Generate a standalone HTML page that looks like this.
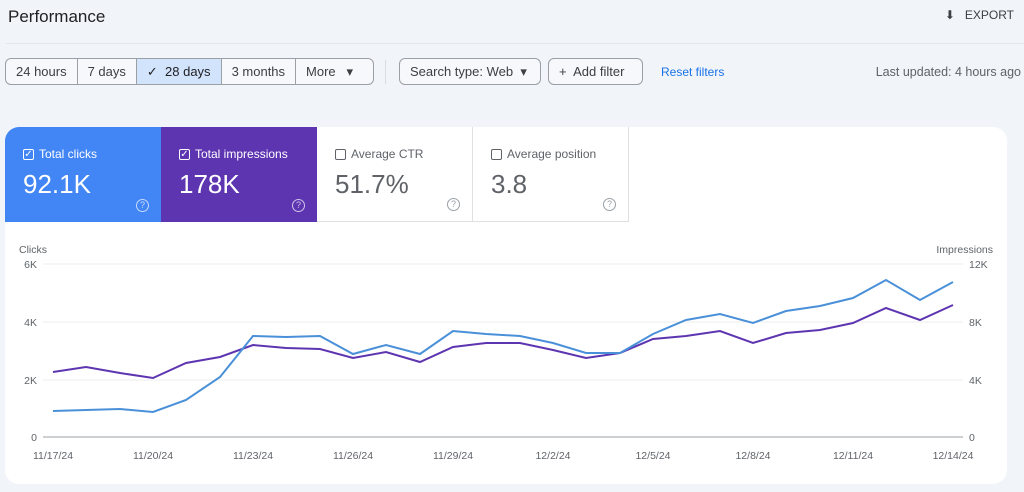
<!DOCTYPE html>
<html><head><meta charset="utf-8"><style>
*{box-sizing:border-box;margin:0;padding:0}
body{width:1024px;height:492px;background:#f1f4f9;font-family:"Liberation Sans",Arial,sans-serif;position:relative;overflow:hidden;color:#3c4043}
.abs{position:absolute;white-space:nowrap}
.title{left:8px;top:7px;font-size:17px;color:#202124}
.hr{left:6px;top:43px;width:1018px;height:1px;background:#e3e6ea}
.seg{left:5px;top:58px;height:27px;border:1px solid #9aa0a6;border-radius:6px;display:flex;overflow:hidden;background:#f6f8fb}
.seg div{font-size:13px;padding:0 10px;line-height:25px;border-right:1px solid #9aa0a6;color:#3c4043}
.seg div:last-child{border-right:none}
.btn{top:58px;height:27px;border:1px solid #9aa0a6;border-radius:6px;font-size:13px;line-height:25px;padding:0 10px;background:#f6f8fb}
.card{left:5px;top:127px;width:1002px;height:357px;background:#fff;border-radius:14px;overflow:hidden}
.m{position:absolute;top:0;width:156px;height:95px;padding:20px 0 0 18px}
.m .l{font-size:12px;display:flex;align-items:center;gap:5px}
.m .v{font-size:26px;margin-top:8px}
.cb{width:11px;height:11px;border:1px solid currentColor;border-radius:2px;font-size:10px;line-height:9px;text-align:center}
.q{position:absolute;right:12px;bottom:10px;width:13px;height:13px;border:1.3px solid currentColor;border-radius:50%;font-size:9px;line-height:11px;text-align:center}
</style></head><body>
<div class="abs title">Performance</div>
<div class="abs" style="right:10px;top:8px;font-size:12px;color:#3c4043">⬇&nbsp;&nbsp; EXPORT</div>
<div class="abs hr"></div>
<div class="abs seg"><div>24 hours</div><div>7 days</div><div style="background:#d2e3fc;color:#202124">✓&nbsp; 28 days</div><div>3 months</div><div style="width:77px">More &nbsp;&nbsp;▾</div></div>
<div class="abs" style="left:385px;top:60px;width:1px;height:24px;background:#dadce0"></div>
<div class="abs btn" style="left:399px;width:142px">Search type: Web &nbsp;▾</div>
<div class="abs btn" style="left:548px;width:95px">+&nbsp; Add filter</div>
<div class="abs" style="left:661px;top:65px;font-size:12px;color:#1a73e8">Reset filters</div>
<div class="abs" style="right:3px;top:65px;font-size:12.5px;color:#5f6368">Last updated: 4 hours ago</div>
<div class="abs card">
<div class="m" style="left:0;background:#4285f4;color:#fff"><div class="l"><span class="cb">✓</span>Total clicks</div><div class="v">92.1K</div><div class="q" style="color:#c6dafc">?</div></div>
<div class="m" style="left:156px;background:#5e35b1;color:#fff"><div class="l"><span class="cb">✓</span>Total impressions</div><div class="v">178K</div><div class="q" style="color:#d1c4e9">?</div></div>
<div class="m" style="left:312px;color:#5f6368;border-right:1px solid #e0e0e0;border-bottom:1px solid #e0e0e0"><div class="l"><span class="cb"></span>Average CTR</div><div class="v">51.7%</div><div class="q" style="color:#9aa0a6">?</div></div>
<div class="m" style="left:468px;color:#5f6368;border-right:1px solid #e0e0e0;border-bottom:1px solid #e0e0e0"><div class="l"><span class="cb"></span>Average position</div><div class="v">3.8</div><div class="q" style="color:#9aa0a6">?</div></div>
</div>
<svg class="abs" style="left:0;top:0" width="1024" height="492" font-family="Liberation Sans,Arial,sans-serif" font-size="10.5" fill="#5f6368">
<text x="19" y="253">Clicks</text><text x="993" y="253" text-anchor="end">Impressions</text>
<g stroke="#eeeeee"><line x1="43" y1="264" x2="963" y2="264"/><line x1="43" y1="322" x2="963" y2="322"/><line x1="43" y1="380" x2="963" y2="380"/></g>
<line x1="43" y1="437" x2="963" y2="437" stroke="#9aa0a6"/>
<g text-anchor="end"><text x="37" y="268">6K</text><text x="37" y="326">4K</text><text x="37" y="384">2K</text><text x="37" y="441">0</text></g>
<g><text x="969" y="268">12K</text><text x="969" y="326">8K</text><text x="969" y="384">4K</text><text x="969" y="441">0</text></g>
<g text-anchor="middle"><text x="53" y="459">11/17/24</text><text x="153" y="459">11/20/24</text><text x="253" y="459">11/23/24</text><text x="353" y="459">11/26/24</text><text x="453" y="459">11/29/24</text><text x="553" y="459">12/2/24</text><text x="653" y="459">12/5/24</text><text x="753" y="459">12/8/24</text><text x="853" y="459">12/11/24</text><text x="953" y="459">12/14/24</text></g>
<polyline fill="none" stroke="#5e35b1" stroke-width="2" points="53,372 86,367 120,373 153,378 186,363 220,357 253,345 286,348 320,349 353,358 386,352 420,362 453,347 486,343 520,343 553,350 586,358 620,353 653,339 686,336 720,331 753,343 786,333 820,330 853,323 886,308 920,320 953,305"/>
<polyline fill="none" stroke="#4a90d9" stroke-width="2" points="53,411 86,410 120,409 153,412 186,400 220,377 253,336 286,337 320,336 353,354 386,345 420,354 453,331 486,334 520,336 553,343 586,353 620,353 653,334 686,320 720,314 753,323 786,311 820,306 853,298 886,280 920,300 953,282"/>
</svg>
</body></html>
